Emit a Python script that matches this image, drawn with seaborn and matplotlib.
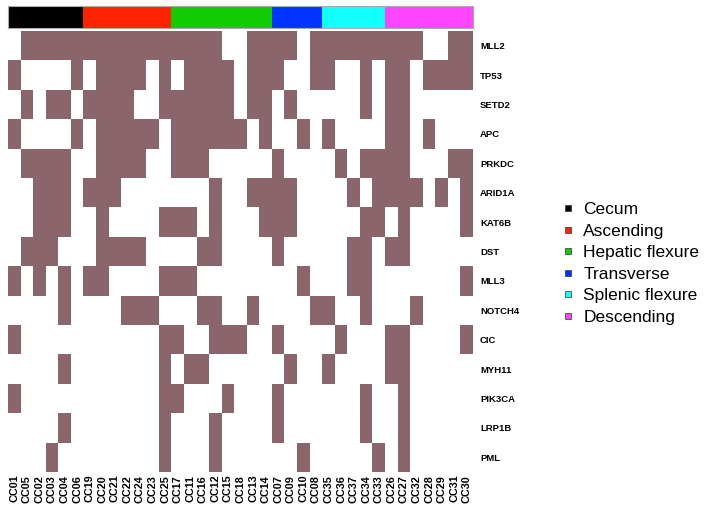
import numpy as np
import pandas as pd
import matplotlib
matplotlib.use('Agg')
import matplotlib.pyplot as plt
import seaborn as sns
from matplotlib.colors import ListedColormap
from matplotlib.lines import Line2D


samples = ['CC01', 'CC05', 'CC02', 'CC03', 'CC04', 'CC06',
           'CC19', 'CC20', 'CC21', 'CC22', 'CC24', 'CC23', 'CC25',
           'CC17', 'CC11', 'CC16', 'CC12', 'CC15', 'CC18', 'CC13', 'CC14',
           'CC07', 'CC09', 'CC10', 'CC08',
           'CC35', 'CC36', 'CC37', 'CC34', 'CC33',
           'CC26', 'CC27', 'CC32', 'CC28', 'CC29', 'CC31', 'CC30']

regions = ['Cecum', 'Ascending', 'Hepatic flexure', 'Transverse',
           'Splenic flexure', 'Descending']
region_sizes = [6, 7, 8, 4, 5, 7]
region_colors = ['#000000', '#ff2200', '#11cc00', '#0033ff', '#11ffff', '#ff44ff']

genes = ['MLL2', 'TP53', 'SETD2', 'APC', 'PRKDC', 'ARID1A', 'KAT6B', 'DST',
         'MLL3', 'NOTCH4', 'CIC', 'MYH11', 'PIK3CA', 'LRP1B', 'PML']

# 1 = mutated, samples in the order above (grouped by region)
#        cecum          ascending              hepatic flexure           transv.     splenic        descending
mll2   = [0,1,1,1,1,1,  1,1,1,1,1,1,1,  1,1,1,1,0,0,1,1,  1,1,0,1,  1,1,1,1,1,  1,1,1,0,0,1,1]
tp53   = [1,0,0,0,0,1,  0,1,1,1,1,0,1,  0,1,1,1,1,0,1,1,  1,0,0,1,  1,0,0,1,0,  1,1,0,1,1,1,1]
setd2  = [0,1,0,1,1,0,  1,1,1,1,0,0,1,  1,1,1,1,1,0,1,1,  0,1,0,0,  0,0,0,1,0,  1,1,0,0,0,0,0]
apc    = [1,0,0,0,0,1,  0,1,1,1,1,1,0,  1,1,1,1,1,1,0,1,  0,0,1,0,  1,0,0,0,0,  1,1,0,1,0,0,0]
prkdc  = [0,1,1,1,1,0,  0,1,1,1,1,0,0,  1,1,1,0,0,0,0,0,  1,0,0,0,  0,1,0,1,1,  1,1,0,0,0,1,1]
arid1a = [0,0,1,1,1,0,  1,1,1,0,0,0,0,  0,0,0,1,0,0,1,1,  1,1,0,0,  0,0,1,0,1,  1,1,1,0,1,0,1]
kat6b  = [0,0,1,1,1,0,  0,1,0,0,0,0,1,  1,1,0,1,0,0,0,1,  1,1,0,0,  0,0,0,1,1,  0,1,0,0,0,0,1]
dst    = [0,1,1,1,0,0,  0,1,1,1,1,0,0,  0,0,1,1,0,0,0,0,  1,0,0,0,  0,0,1,1,0,  1,1,0,0,0,0,0]
mll3   = [1,0,1,0,1,0,  1,1,0,0,0,0,1,  1,1,0,0,0,0,0,0,  0,0,1,0,  0,0,1,1,0,  0,0,0,0,0,0,1]
notch4 = [0,0,0,0,1,0,  0,0,0,1,1,1,0,  0,0,1,1,0,0,1,0,  0,0,0,1,  1,0,0,1,0,  0,0,1,0,0,0,0]
cic    = [1,0,0,0,0,0,  0,0,0,0,0,0,1,  1,0,0,1,1,1,0,0,  1,0,0,0,  0,1,0,0,0,  1,1,0,0,0,0,1]
myh11  = [0,0,0,0,1,0,  0,0,0,0,0,0,1,  0,1,1,0,0,0,0,0,  0,1,0,0,  1,0,0,0,0,  1,1,0,0,0,0,0]
pik3ca = [1,0,0,0,0,0,  0,0,0,0,0,0,1,  1,0,0,0,1,0,0,0,  1,0,0,0,  0,0,0,1,0,  0,1,0,0,0,0,0]
lrp1b  = [0,0,0,0,1,0,  0,0,0,0,0,0,1,  0,0,0,1,0,0,0,0,  1,0,0,0,  0,0,0,1,0,  0,1,0,0,0,0,0]
pml    = [0,0,0,1,0,0,  0,0,0,0,0,0,1,  0,0,0,1,0,0,0,0,  0,0,1,0,  0,0,0,0,1,  0,1,0,0,0,0,0]

mut = pd.DataFrame([mll2, tp53, setd2, apc, prkdc, arid1a, kat6b, dst, mll3,
                    notch4, cic, myh11, pik3ca, lrp1b, pml],
                   index=genes, columns=samples)
sample_region = np.repeat(np.arange(len(regions)), region_sizes)

plt.rcParams['font.family'] = ['Liberation Sans', 'DejaVu Sans']

W, H = 712, 509
fig = plt.figure(figsize=(W / 100, H / 100), dpi=100)
ax_bar = fig.add_axes([8 / W, 1 - 28 / H, 465 / W, 22 / H])
ax = fig.add_axes([8 / W, 1 - 472 / H, 465 / W, 441 / H])

# mutation matrix
sns.heatmap(mut, cmap=ListedColormap(['white', '#8b656c']), vmin=0, vmax=1,
            cbar=False, xticklabels=samples, yticklabels=genes, ax=ax)
ax.yaxis.tick_right()
ax.set_yticklabels(genes, rotation=0, fontsize=6.8, fontweight='bold')
ax.set_xticklabels(samples, rotation=90, fontsize=7.8, fontweight='bold')
ax.tick_params(axis='y', length=0, pad=5)
ax.tick_params(axis='x', length=0, pad=2)
ax.set_xlabel('')
ax.set_ylabel('')

# region colour strip
sns.heatmap(sample_region.reshape(1, -1), cmap=ListedColormap(region_colors),
            vmin=-0.5, vmax=len(regions) - 0.5, cbar=False,
            xticklabels=False, yticklabels=False, ax=ax_bar)
for s in ax_bar.spines.values():
    s.set_visible(True)
    s.set_color('#aaaaaa')
    s.set_linewidth(0.8)

handles = [Line2D([0], [0], marker='s', linestyle='', markersize=5,
                  markerfacecolor=c, markeredgecolor='#333333', markeredgewidth=0.5)
           for c in region_colors]
fig.legend(handles, regions, loc='upper left', bbox_to_anchor=(559 / W, 1 - 202 / H),
           frameon=False, fontsize=12.5, handlelength=1.0, handletextpad=0.4,
           labelspacing=0.37, borderpad=0, borderaxespad=0)

fig.savefig('out.png', dpi=100)
